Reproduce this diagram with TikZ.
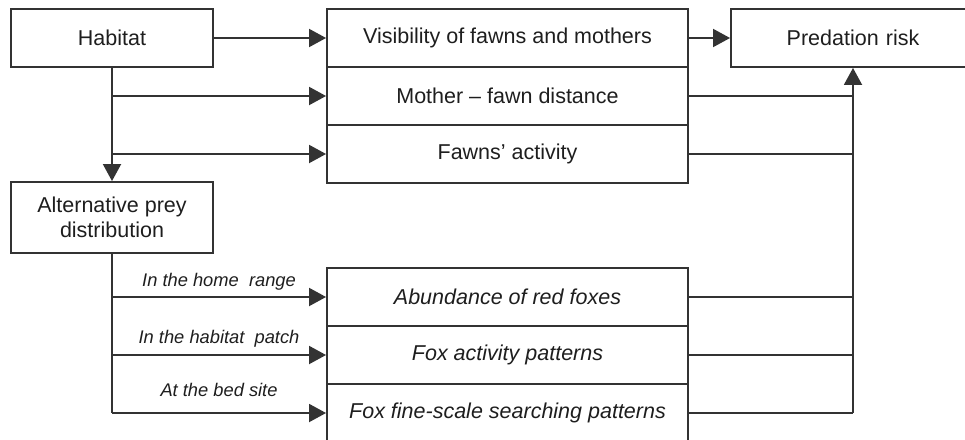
\documentclass[tikz,border=0pt]{standalone}
\usepackage{fontspec}
\setmainfont{Liberation Sans}
\usetikzlibrary{arrows.meta,calc}
\definecolor{ln}{HTML}{333333}
\definecolor{tx}{HTML}{1E1E1E}
\tikzset{
  box/.style={draw=ln, line width=1.9pt, inner sep=0pt, text=tx, align=center,
    font=\fontsize{21.5}{25}\selectfont},
  conn/.style={draw=ln, line width=1.9pt},
  arr/.style={conn, -{Triangle[length=17pt,width=18pt]}},
  lbl/.style={text=tx, inner sep=0pt, anchor=base, font=\fontsize{18.3}{20}\selectfont\itshape}
}
\begin{document}
\begin{tikzpicture}[x=1pt,y=-1pt]
\useasboundingbox (0,0) rectangle (965,439);
\clip (0,0) rectangle (965,439);
% boxes
\node[box, minimum width=202pt, minimum height=58pt] (hab) at (112,38) {Habitat};
\node[box, minimum width=361pt, minimum height=58pt] (vis) at (507.5,38) {Visibility of fawns and mothers};
\node[box, minimum width=361pt, minimum height=58pt] (mot) at (507.5,96) {Mother -- fawn distance};
\node[box, minimum width=361pt, minimum height=58pt] (faw) at (507.5,154) {Fawns' activity};
\node[box, minimum width=269pt, minimum height=58pt, text width=200pt] (pred) at (865.5,38) {\hspace*{-25pt}Predation risk};
\node[box, minimum width=202pt, minimum height=71pt] (alt) at (112,217.5) {Alternative prey\\distribution};
\node[box, minimum width=361pt, minimum height=58pt, font=\fontsize{21.5}{25}\selectfont\itshape] (abu) at (507.5,297) {Abundance of red foxes};
\node[box, minimum width=361pt, minimum height=58pt, font=\fontsize{21.5}{25}\selectfont\itshape] (fac) at (507.5,355) {Fox activity patterns};
\node[box, minimum width=361pt, minimum height=58pt, font=\fontsize{21.5}{25}\selectfont\itshape] (fin) at (507.5,413) {Fox fine-scale searching patterns};
% upper connectors
\draw[arr] (hab) -- (vis);
\draw[arr] (vis) -- (pred.west |- vis.east);
\draw[arr] (hab.south) -- (alt.north);
\draw[arr] (hab.south |- mot.west) -- (mot.west);
\draw[arr] (hab.south |- faw.west) -- (faw.west);
% right bus
\coordinate (bus) at (853,413);
\draw[arr] (bus) -- (bus |- pred.south);
\draw[conn] (mot.east) -- (mot.east -| bus);
\draw[conn] (faw.east) -- (faw.east -| bus);
\draw[conn] (abu.east) -- (abu.east -| bus);
\draw[conn] (fac.east) -- (fac.east -| bus);
\draw[conn] (fin.east) -- (bus);
% lower connectors
\draw[conn] (alt.south) -- (alt.south |- fin.west);
\draw[arr] (alt.south |- abu.west) -- (abu.west)
  node[lbl, midway, yshift=11pt] {In the home~~range};
\draw[arr] (alt.south |- fac.west) -- (fac.west)
  node[lbl, midway, yshift=12pt] {In the habitat~~patch};
\draw[arr] (alt.south |- fin.west) -- (fin.west)
  node[lbl, midway, yshift=17pt] {At the bed site};
\end{tikzpicture}
\end{document}
